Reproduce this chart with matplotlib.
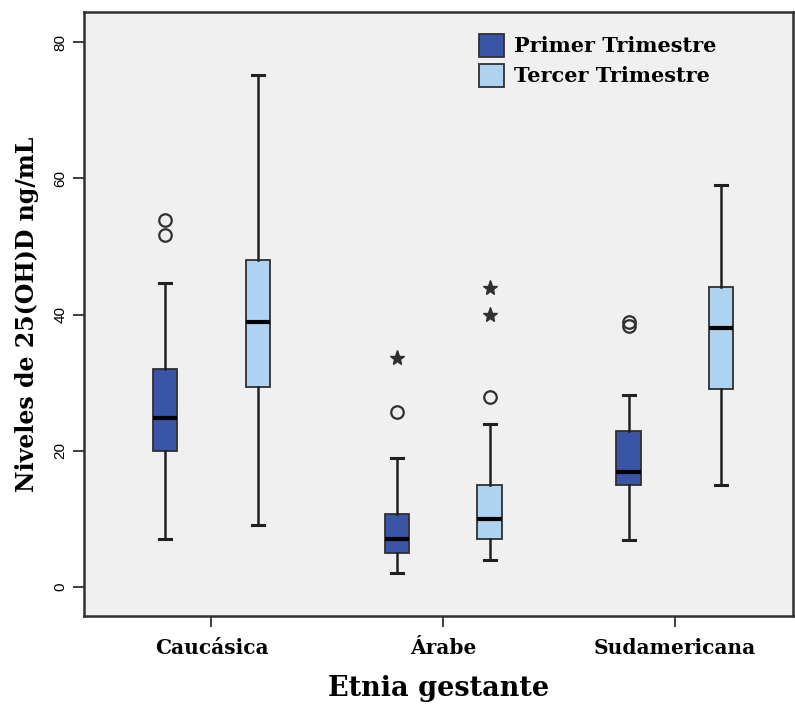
import matplotlib.pyplot as plt
from matplotlib.patches import Patch

# categories and series
etnias = ['Caucásica', 'Árabe', 'Sudamericana']
series = ['Primer Trimestre', 'Tercer Trimestre']
colors = ['#3a54a6', '#aed3f0']

# box stats per series: [whislo, q1, med, q3, whishi] per ethnic group
primer_stats = [[7.0, 20.0, 24.8, 32.0, 44.6],
                [2.0, 4.9, 7.0, 10.7, 18.9],
                [6.9, 15.0, 16.9, 22.9, 28.2]]
tercer_stats = [[9.0, 29.3, 38.9, 48.0, 75.2],
                [4.0, 7.0, 10.0, 14.9, 23.9],
                [15.0, 29.0, 38.0, 44.0, 59.0]]

# outliers (circles) and extreme values (stars)
primer_outliers = [[53.9, 51.7], [25.7], [38.9, 38.3]]
primer_extremes = [[], [33.6], []]
tercer_outliers = [[], [27.9], []]
tercer_extremes = [[], [43.9, 39.9], []]

serif = 'DejaVu Serif'

fig = plt.figure(figsize=(7.95, 7.06), dpi=100)
ax = fig.add_axes([0.1057, 0.1275, 0.892, 0.855])
ax.set_facecolor('#f0f0f0')

offset = 0.2
width = 0.105

groups = [(primer_stats, primer_outliers, primer_extremes, -offset),
          (tercer_stats, tercer_outliers, tercer_extremes, offset)]

for (stats, outl, extr, dx), col in zip(groups, colors):
    bstats = []
    for s, o in zip(stats, outl):
        bstats.append({'whislo': s[0], 'q1': s[1], 'med': s[2], 'q3': s[3],
                       'whishi': s[4], 'fliers': o})
    pos = [i + dx for i in range(len(etnias))]
    ax.bxp(bstats, positions=pos, widths=width, patch_artist=True,
           manage_ticks=False, capwidths=width * 0.5,
           boxprops=dict(facecolor=col, edgecolor='#303030', linewidth=1.3),
           medianprops=dict(color='black', linewidth=3),
           whiskerprops=dict(color='#202020', linewidth=1.8),
           capprops=dict(color='#202020', linewidth=2.2),
           flierprops=dict(marker='o', markersize=9, markerfacecolor='none',
                           markeredgecolor='#303030', markeredgewidth=1.6))
    for p, e in zip(pos, extr):
        if e:
            ax.plot([p] * len(e), e, linestyle='none', marker='*',
                    markersize=11, color='#303030')

ax.set_xlim(-0.55, 2.51)
ax.set_ylim(-4.3, 84.4)
ax.set_xticks(range(len(etnias)))
ax.set_xticklabels(etnias, fontfamily=serif, fontweight='bold', fontsize=14.5)
ax.set_yticks([0, 20, 40, 60, 80])
ax.set_yticklabels(['0', '20', '40', '60', '80'], rotation=90, va='center',
                   fontfamily='Liberation Sans', fontsize=11)
ax.tick_params(axis='both', direction='out', length=8, width=1.3,
               color='#303030')
ax.tick_params(axis='x', pad=8)
ax.tick_params(axis='y', pad=4)

for sp in ax.spines.values():
    sp.set_linewidth(1.8)
    sp.set_color('#303030')

ax.set_ylabel('Niveles de 25(OH)D ng/mL', fontfamily=serif,
              fontweight='bold', fontsize=17, labelpad=10)
ax.set_xlabel('Etnia gestante', fontfamily=serif,
              fontweight='bold', fontsize=19.5, labelpad=12)

handles = [Patch(facecolor=c, edgecolor='#303030', linewidth=1.3) for c in colors]
ax.legend(handles, series, loc='upper left', bbox_to_anchor=(0.53, 0.995),
          frameon=False, handlelength=1.2, handleheight=1.3,
          handletextpad=0.5, labelspacing=0.35,
          prop=dict(family=serif, weight='bold', size=15))

fig.savefig('out.png', dpi=100)
